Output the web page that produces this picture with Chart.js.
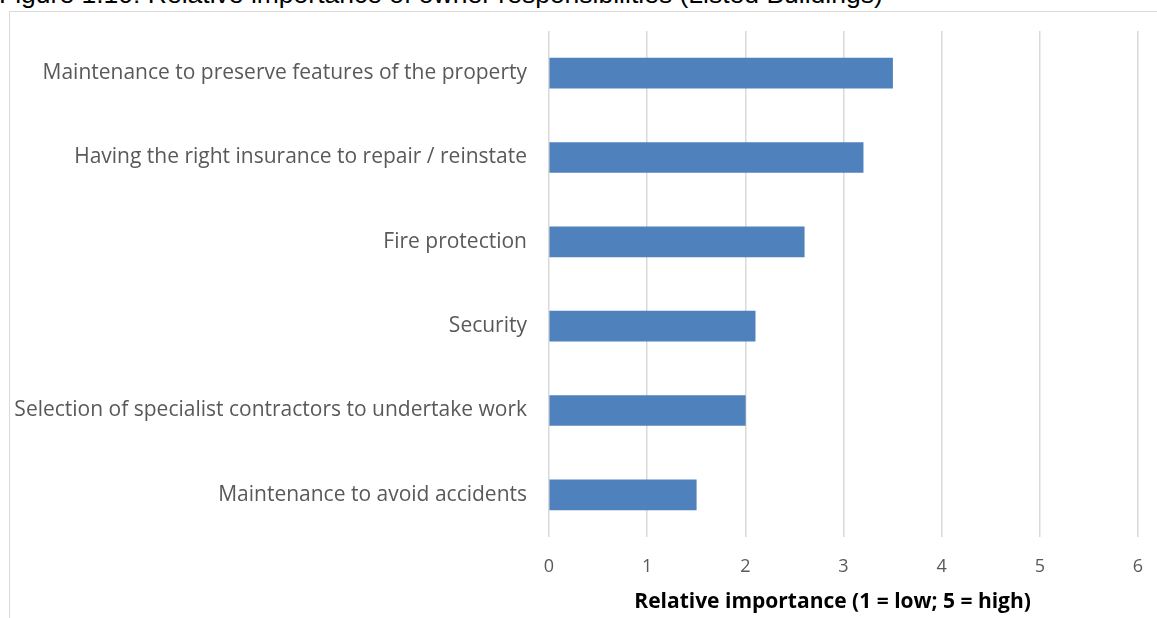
<!DOCTYPE html>
<html>
<head>
<meta charset="utf-8">
<script src="https://cdn.jsdelivr.net/npm/chart.js@4"></script>
<style>
html,body{margin:0;padding:0;background:#fff;overflow:hidden;}
#wrap{position:relative;width:1157px;height:618px;}
#frame{position:absolute;left:9px;top:11px;width:1200px;height:700px;border:1px solid #d9d9d9;box-sizing:border-box;}
#title{position:absolute;left:-1px;top:-21px;font-family:"Liberation Sans",Arial,sans-serif;font-size:26.5px;line-height:30px;color:#000;white-space:nowrap;}
canvas{position:absolute;left:0;top:0;}
</style>
</head>
<body>
<div id="wrap">
<div id="frame"></div>
<div id="title">Figure 1.10: Relative importance of owner responsibilities (Listed Buildings)</div>
<canvas id="c" width="1157" height="618"></canvas>
</div>
<script>
const categories = [
  "Maintenance to preserve features of the property",
  "Having the right insurance to repair / reinstate",
  "Fire protection",
  "Security",
  "Selection of specialist contractors to undertake work",
  "Maintenance to avoid accidents"
];
const values = [3.5, 3.2, 2.6, 2.1, 2.0, 1.5];
const xTicks = [0, 1, 2, 3, 4, 5, 6];
const axisTitle = "Relative importance (1 = low; 5 = high)";

new Chart(document.getElementById('c'), {
  type: 'bar',
  data: {
    labels: categories,
    datasets: [{
      data: values,
      backgroundColor: '#4F81BD',
      borderWidth: 0,
      barThickness: 30
    }]
  },
  options: {
    indexAxis: 'y',
    responsive: false,
    animation: false,
    layout: { padding: { top: 31, right: 19, left: 0, bottom: 0 } },
    plugins: { legend: { display: false }, tooltip: { enabled: false } },
    scales: {
      x: {
        min: xTicks[0], max: xTicks[xTicks.length - 1],
        afterBuildTicks: s => { s.ticks = xTicks.map(v => ({ value: v })); },
        afterFit: s => { s.height = 81; s.paddingRight = 0; s.paddingLeft = 0; },
        grid: { color: '#d9d9d9', lineWidth: 1.5, drawTicks: false },
        border: { display: false },
        ticks: { padding: 19, color: '#595959', font: { family: 'Open Sans', size: 18 } },
        title: { display: true, text: axisTitle + '\u00A0\u00A0\u00A0\u00A0', color: '#000', font: { family: 'Open Sans', size: 21, weight: 'bold' }, padding: { top: 4, bottom: 3 } }
      },
      y: {
        afterFit: s => { s.width = 549; s.paddingTop = 0; s.paddingBottom = 0; },
        grid: { display: false, drawTicks: false },
        border: { display: false },
        ticks: { padding: 22, color: '#595959', font: { family: 'Open Sans', size: 21 } }
      }
    }
  }
});
</script>
</body>
</html>
